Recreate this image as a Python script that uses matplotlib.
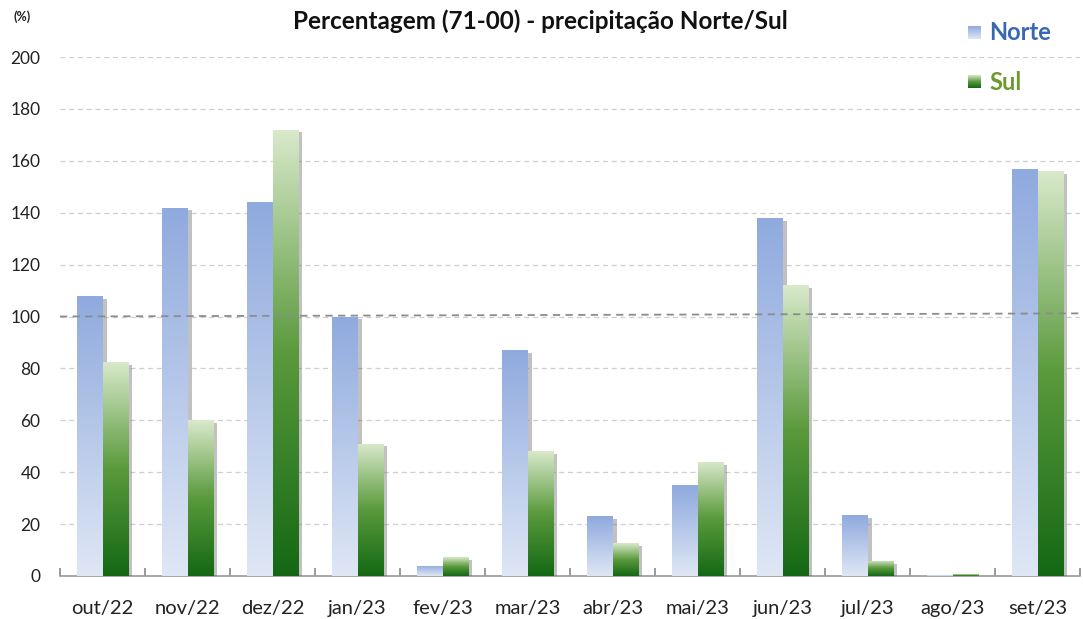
import numpy as np
import matplotlib
matplotlib.use("Agg")
import matplotlib.pyplot as plt
import matplotlib.patheffects as pe
from matplotlib.colors import LinearSegmentedColormap

plt.rcParams['font.family'] = ['Lato', 'DejaVu Sans']

categories = ["out/22", "nov/22", "dez/22", "jan/23", "fev/23", "mar/23",
              "abr/23", "mai/23", "jun/23", "jul/23", "ago/23", "set/23"]
norte = [108, 142, 144, 100, 4, 87, 23, 35, 138, 23.5, 0.5, 157]
sul = [82.5, 60, 172, 51, 7.3, 48, 12.7, 44, 112, 5.8, 0.6, 156]
ref_line = [100, 101.2]
yticks = [0, 20, 40, 60, 80, 100, 120, 140, 160, 180, 200]
title = "Percentagem (71-00) - precipitação Norte/Sul"

W, H = 1083, 619
fig = plt.figure(figsize=(W / 100, H / 100), dpi=100)
ax = fig.add_axes([60 / W, 43 / H, 1020 / W, (576 - 57) / H])

x = np.arange(len(categories))
bw = 0.295

cmap_n = LinearSegmentedColormap.from_list("n", ["#dfe7f5", "#8faade"])
cmap_s = LinearSegmentedColormap.from_list("s", ["#146814", "#5a9a3c", "#d9e9cb"])
grad = np.linspace(0, 1, 256).reshape(-1, 1)

shadow = [pe.SimplePatchShadow(offset=(3, -2), shadow_rgbFace="#666666", alpha=0.4), pe.Normal()]
bars_n = ax.bar(x - bw / 2, norte, bw, color="#b8c9ea", zorder=3, path_effects=shadow)
bars_s = ax.bar(x + bw / 2, sul, bw, color="#8fba70", zorder=3, path_effects=shadow)

for bars, cm in ((bars_n, cmap_n), (bars_s, cmap_s)):
    for r in bars:
        x0, w, h = r.get_x(), r.get_width(), r.get_height()
        if h <= 0:
            continue
        im = ax.imshow(grad, cmap=cm, aspect="auto", origin="lower",
                       extent=(x0, x0 + w, 0, h), zorder=4, interpolation="bilinear")
        im.set_clip_path(r)

ax.plot([-0.5, len(categories) - 0.5], ref_line, ls=(0, (4, 3)), color="#8c8c8c", lw=1.3, zorder=6)

ax.set_xlim(-0.5, len(categories) - 0.5)
ax.set_ylim(0, 200)
ax.set_yticks(yticks)
ax.yaxis.grid(True, ls=(0, (4, 3)), color="#cfcfcf", lw=0.9, zorder=0)
ax.set_axisbelow(True)
for s in ("left", "right", "top"):
    ax.spines[s].set_visible(False)
ax.spines["bottom"].set_color("#9a9a9a")
ax.spines["bottom"].set_linewidth(1.2)
ax.tick_params(axis="y", length=0, pad=14, labelsize=12.5, labelcolor="#222222")
ax.set_xticks(x)
ax.set_xticklabels(categories, fontsize=14.5, color="#222222")
ax.tick_params(axis="x", length=0, pad=17)
ax.set_xticks(np.arange(len(categories) + 1) - 0.5, minor=True)
ax.tick_params(axis="x", which="minor", direction="in", length=6, color="#8a8a8a", width=1.2)

fig.text(540 / W, 1 - 21 / H, title, ha="center", va="center", fontsize=17.5,
         fontweight="bold", color="#111111")
fig.text(22 / W, 1 - 17 / H, "(%)", ha="center", va="center", fontsize=9,
         fontweight="bold", color="#222222")

# legend
lx0, ly_n, ly_s = 968, 33, 82
for ly, cm, lab, col in ((ly_n, cmap_n, "Norte", "#3a68b0"), (ly_s, cmap_s, "Sul", "#6c9a2c")):
    lax = fig.add_axes([lx0 / W, 1 - (ly + 6) / H, 13 / W, 13 / H])
    lax.imshow(grad, cmap=cm, aspect="auto", origin="lower", interpolation="bilinear")
    lax.axis("off")
    fig.text((lx0 + 21) / W, 1 - ly / H, lab, ha="left", va="center", fontsize=17,
             fontweight="bold", color=col)

fig.savefig("out.png", dpi=100, facecolor="white")
